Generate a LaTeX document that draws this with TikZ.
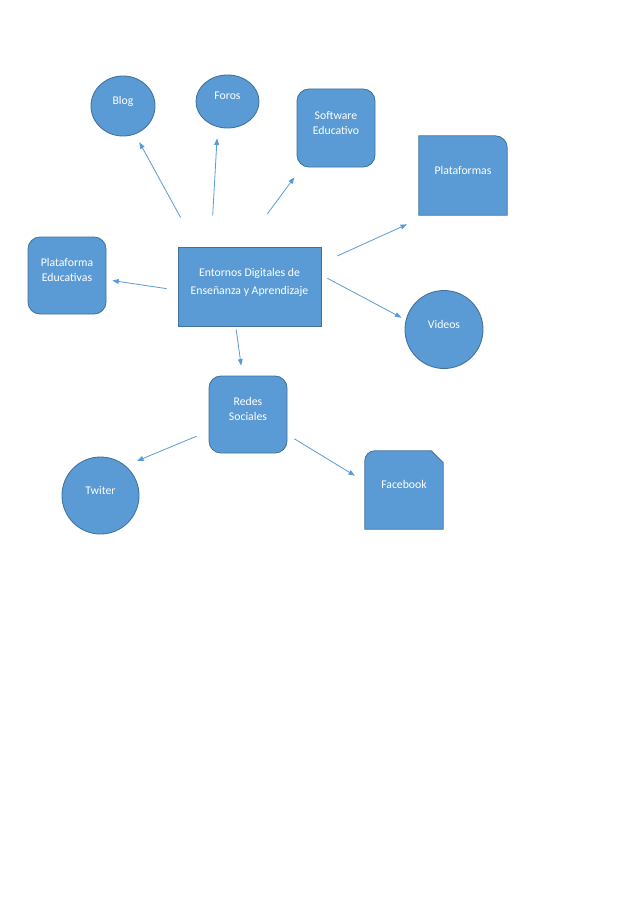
\documentclass[tikz,border=0pt]{standalone}
\usepackage{fontspec}
\setmainfont{Carlito}
\usepackage{tikz}
\usetikzlibrary{shapes.geometric}
\usetikzlibrary{arrows.meta}
\usetikzlibrary{calc,backgrounds}
\definecolor{azul}{RGB}{91,155,213}
\definecolor{borde}{RGB}{65,113,156}
\newlength{\pxu}
\setlength{\pxu}{0.0329cm}

\begin{document}
\begin{tikzpicture}[x=\pxu, y=-\pxu,
    forma/.style={draw=borde, fill=azul, line width=0.8pt},
    texto/.style={text=white, align=center, inner sep=0pt, text depth=10pt, font=\fontsize{11}{14}\selectfont},
    caja/.style 2 args={forma, texto, rectangle, minimum width=#1*\pxu, minimum height=#2*\pxu},
    redondo/.style 2 args={caja={#1}{#2}, rounded corners=12*\pxu},
    circulo/.style 2 args={forma, texto, ellipse, minimum width=#1*\pxu, minimum height=#2*\pxu},
    hueco/.style 2 args={texto, rectangle, minimum width=#1*\pxu, minimum height=#2*\pxu},
    flecha/.style={draw=azul, line width=0.75pt, -{Triangle[length=6pt, width=4.5pt]}}]

    \node[caja={143}{79}, font=\fontsize{11}{17}\selectfont] (central) at (249.5,286.5) {Entornos Digitales de\\Enseñanza y Aprendizaje};
    \node[circulo={64}{60}] (blog) at (123,106) {Blog};
    \node[circulo={63}{53}] (foros) at (227.5,101.5) {Foros};
    \node[redondo={78}{78}] (soft) at (336,128) {Software\\Educativo};
    \node[hueco={88}{79}] (platf) at (463,175.5) {Plataformas};
    \node[redondo={78}{77}] (pled) at (67,275.5) {Plataforma\\Educativas};
    \node[circulo={78}{78}] (videos) at (444,329.5) {Videos};
    \node[redondo={78}{77}] (redes) at (248,414.5) {Redes\\Sociales};
    \node[circulo={77}{77}] (twiter) at (100.5,495.5) {Twiter};
    \node[hueco={78}{78}] (fb) at (404,490) {Facebook};

    % fondo y formas con una sola esquina especial
    \begin{scope}[on background layer]
        \fill[white] (0,0) rectangle (638,903);
        \path[forma] (platf.south west) -- (platf.north west) -- ($(platf.north east)+(-12,0)$)
            arc[start angle=90, end angle=0, radius=12*\pxu] -- (platf.south east) -- cycle;
        \path[forma] (fb.south west) -- ($(fb.north west)+(0,10)$)
            arc[start angle=180, end angle=90, radius=10*\pxu] -- ($(fb.north east)+(-12,0)$)
            -- ($(fb.north east)+(0,12)$) -- (fb.south east) -- cycle;
    \end{scope}

    \draw[flecha, shorten <=33.1*\pxu, shorten >=9.1*\pxu] (central.143) -- (blog.-67.5);
    \draw[flecha, shorten <=31*\pxu, shorten >=11.4*\pxu] (central.134) -- (foros.-111.5);
    \draw[flecha, shorten <=40.8*\pxu, shorten >=12.4*\pxu] (central.99.5) -- (soft.-131.7);
    \draw[flecha, shorten <=17.5*\pxu, shorten >=22.2*\pxu] (central.18.8) -- (platf.-132.1);
    \draw[flecha, shorten <=11.1*\pxu, shorten >=6*\pxu] (central.-177.7) -- (pled.-6.9);
    \draw[flecha, shorten <=6.8*\pxu, shorten >=4.9*\pxu] (central.9.3) -- (videos.166.3);
    \draw[flecha, shorten <=3*\pxu, shorten >=10.1*\pxu] (central.-109.4) -- (redes.98.4);
    \draw[flecha, shorten <=13*\pxu, shorten >=12.5*\pxu] (redes.-157.1) -- (twiter.50);
    \draw[flecha, shorten <=8.1*\pxu, shorten >=11.6*\pxu] (redes.-27.6) -- (fb.168.1);

\end{tikzpicture}
\end{document}
